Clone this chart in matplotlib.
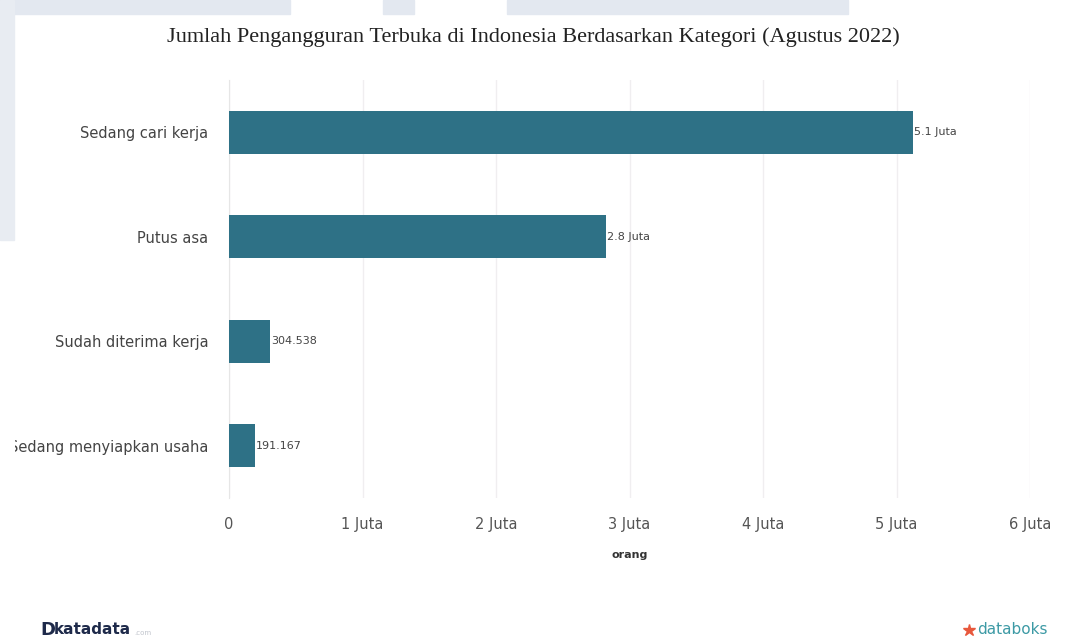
import matplotlib.pyplot as plt
from matplotlib.patches import Rectangle
from matplotlib.lines import Line2D
from matplotlib.transforms import Bbox

# Pengangguran terbuka menurut kategori, Agustus 2022 (orang)
kategori = ["Sedang cari kerja", "Putus asa", "Sudah diterima kerja", "Sedang menyiapkan usaha"]
jumlah = [5_126_000, 2_826_000, 304_538, 191_167]
xticks = [0, 1e6, 2e6, 3e6, 4e6, 5e6, 6e6]
xtick_labels = ["0", "1 Juta", "2 Juta", "3 Juta", "4 Juta", "5 Juta", "6 Juta"]


def label_nilai(v):
    if v >= 1e6:
        return f"{v / 1e6:.1f} Juta"
    return f"{v:,.0f}".replace(",", ".")


fig = plt.figure(figsize=(10.66, 6.39), dpi=100)

# pale page background bands behind the card
for x0, x1 in [(0, 290), (383, 414), (507, 848)]:
    fig.patches.append(Rectangle((x0 / 1066, 1 - 14 / 639), (x1 - x0) / 1066, 14 / 639,
                                 transform=fig.transFigure, color="#e3e8f0", zorder=0))
fig.patches.append(Rectangle((0, 1 - 240 / 639), 14 / 1066, 240 / 639,
                             transform=fig.transFigure, color="#e8ecf2", zorder=0))

ax = fig.add_axes([229 / 1066, 1 - 498 / 639, (1030 - 229) / 1066, (498 - 80) / 639])

y = range(len(kategori))
bars = ax.barh(y, jumlah, height=0.41, color="#2e7186", zorder=3)
for b, v in zip(bars, jumlah):
    ax.text(b.get_width() + 8000, b.get_y() + b.get_height() / 2, label_nilai(v),
            va="center", ha="left", fontsize=8, color="#444444", zorder=4)

ax.set_ylim(3.5, -0.5)
ax.set_xlim(0, 6e6)
ax.set_yticks(list(y))
ax.set_yticklabels(kategori, fontsize=10.5, color="#444444")
ax.set_xticks(xticks)
ax.set_xticklabels(xtick_labels, fontsize=10.5, color="#555555")
ax.tick_params(axis="both", length=0)
ax.tick_params(axis="y", pad=15)
ax.tick_params(axis="x", pad=14)
ax.grid(axis="x", color="#f0eef0", linewidth=1, zorder=0)
for s in ["top", "right", "bottom"]:
    ax.spines[s].set_visible(False)
ax.spines["left"].set_color("#e6e6e6")
ax.set_xlabel("orang", fontsize=8, fontweight="bold", color="#333333", labelpad=13)

# long labels get cut at the card edge
card = Bbox.from_extents(15, 0, 1066, 639)
for lbl in ax.get_yticklabels():
    lbl.set_clip_on(True)
    lbl.set_clip_box(card)

fig.text(533 / 1066, 1 - 37 / 639,
         "Jumlah Pengangguran Terbuka di Indonesia Berdasarkan Kategori (Agustus 2022)",
         ha="center", va="center", fontsize=16, family="Liberation Serif", color="#222222")

# brand marks in the footer
fig.text(40 / 1066, 1 - 630 / 639, "D", ha="left", va="center", fontsize=13,
         fontweight="bold", color="#1e2a4a")
fig.text(54 / 1066, 1 - 630 / 639, "katadata", ha="left", va="center", fontsize=11,
         fontweight="bold", color="#1e2a4a")
fig.text(134 / 1066, 1 - 633 / 639, ".com", ha="left", va="center", fontsize=5,
         color="#c0c4cc")
fig.add_artist(Line2D([969 / 1066], [1 - 630 / 639], transform=fig.transFigure,
                      marker="*", markersize=9, color="#e8583c", linestyle="none"))
fig.text(977 / 1066, 1 - 630 / 639, "databoks", ha="left", va="center", fontsize=11,
         color="#3d9aa5")

fig.savefig("out.png", dpi=100, facecolor="white")
